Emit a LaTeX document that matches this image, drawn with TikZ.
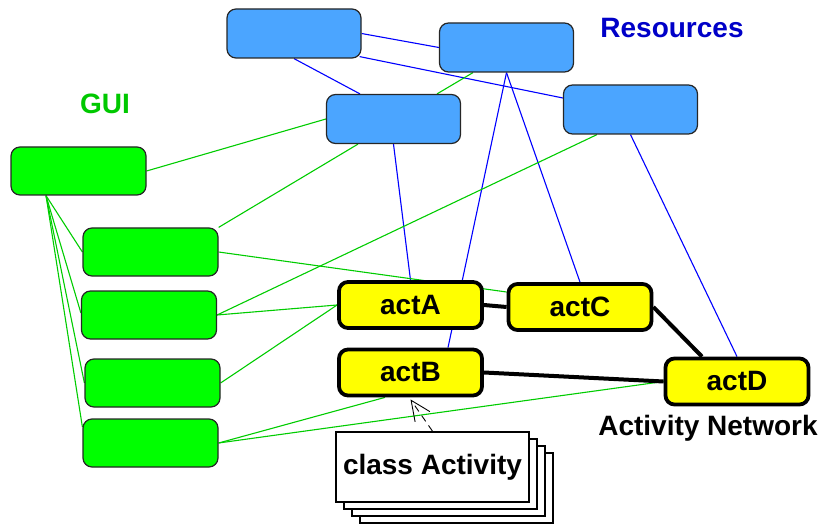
\documentclass[tikz,border=0pt]{standalone}
\usepackage{fontspec}
\setmainfont{Liberation Sans}
\usetikzlibrary{arrows.meta}
\pgfdeclarelayer{bg}
\pgfsetlayers{bg,main}
\definecolor{resfill}{RGB}{75,165,255}
\definecolor{guifill}{RGB}{0,255,0}
\definecolor{actfill}{RGB}{255,255,0}
\definecolor{resline}{RGB}{0,0,255}
\definecolor{guiline}{RGB}{0,204,0}
\definecolor{restext}{RGB}{0,0,200}
\definecolor{guitext}{RGB}{0,200,0}
\tikzset{
  bigfont/.style={font=\fontsize{28}{32}\selectfont\bfseries},
  resbox/.style={draw=black!85, line width=1.2pt, fill=resfill, rounded corners=9pt, minimum width=134pt, minimum height=49pt, inner sep=0pt},
  guibox/.style={draw=black!85, line width=1.2pt, fill=guifill, rounded corners=9pt, minimum width=135pt, minimum height=48pt, inner sep=0pt},
  actbox/.style={draw=black, line width=3.8pt, fill=actfill, rounded corners=9pt, minimum width=143pt, minimum height=46pt, inner sep=0pt, bigfont},
  classbox/.style={draw=black, line width=1.6pt, fill=white, minimum width=193pt, minimum height=70pt, inner sep=0pt},
  resedge/.style={draw=resline, line width=1.1pt},
  guiedge/.style={draw=guiline, line width=1.1pt},
  actedge/.style={draw=black, line width=4pt},
  inherit/.style={draw=black, line width=0.9pt, dash pattern=on 7pt off 5pt, -{Straight Barb[length=20pt,width=18pt,line width=0.9pt]}},
}
\begin{document}
\begin{tikzpicture}[x=1pt,y=-1pt]
\useasboundingbox (0,0) rectangle (820,524);
% labels
\node[bigfont, text=restext] (lres) at (672,28) {Resources};
\node[bigfont, text=guitext] (lgui) at (105,104) {GUI};
\node[bigfont] (lnet) at (708,428) {Activity Network};
% class stack
\node[classbox] (ca3) at (456.5,488) {};
\node[classbox] (ca2) at (448.5,481) {};
\node[classbox] (ca1) at (440.5,474) {};
\node[classbox, bigfont] (ca) at (432.5,467) {class Activity};
% resource and GUI boxes
\node[resbox] (R1) at (294,33.5) {};
\node[resbox] (R2) at (506.5,47.5) {};
\node[resbox] (R3) at (393.5,119) {};
\node[resbox] (R4) at (630.5,109.5) {};
\node[guibox] (G0) at (78.5,171) {};
\node[guibox] (G1) at (150.5,252) {};
\node[guibox] (G2) at (149,315) {};
\node[guibox] (G3) at (152.5,383) {};
\node[guibox] (G4) at (150.5,443) {};
% activities
\node[actbox] (actA) at (410.5,305) {actA};
\node[actbox] (actC) at (580,307) {actC};
\node[actbox] (actB) at (410.5,372.5) {actB};
\node[actbox] (actD) at (737,381.5) {actD};
\begin{pgfonlayer}{bg}
% blue edges
\draw[resedge] (R1.east) -- (R2.west);
\draw[resedge] ([shift={(-2pt,2pt)}]R1.south east) -- ([yshift=11.5pt]R4.west);
\draw[resedge] (R1.south) -- ([xshift=-33.5pt]R3.north);
\draw[resedge] (R2.south) -- ([xshift=37.5pt]actB.north);
\draw[resedge] (R2.south) -- (actC.north);
\draw[resedge] (R3.south) -- (actA.north);
\draw[resedge] (R4.south) -- (actD.north);
% green edges
\draw[guiedge] (G0.east) -- (R3.west);
\draw[guiedge] (G1.north east) -- ([xshift=-35.5pt]R3.south);
\draw[guiedge] ([xshift=43.5pt]R3.north) -- ([xshift=-33.5pt]R2.south);
\draw[guiedge] (G2.east) -- ([xshift=-33.5pt]R4.south);
\draw[guiedge] ([xshift=-32.5pt]G0.south) -- (G1.west);
\draw[guiedge] ([xshift=-32.5pt]G0.south) -- ([yshift=2pt]G2.west);
\draw[guiedge] ([xshift=-32.5pt]G0.south) -- (G3.west);
\draw[guiedge] ([xshift=-32.5pt]G0.south) -- ([yshift=16pt]G4.west);
\draw[guiedge] (G1.east) -- ([yshift=15pt]actC.west);
\draw[guiedge] (G2.east) -- (actA.west);
\draw[guiedge] (G3.east) -- (actA.west);
\draw[guiedge] (G4.east) -- ([xshift=-25.5pt]actB.south);
\draw[guiedge] (G4.east) -- (actD.west);
% activity network edges
\draw[actedge] (actA.east) -- (actC.west);
\draw[actedge] (actC.east) -- ([xshift=-35pt]actD.north);
\draw[actedge] (actB.east) -- (actD.west);
\end{pgfonlayer}
\draw[inherit] (ca.north) -- ([yshift=-2pt]actB.south);
\end{tikzpicture}
\end{document}
